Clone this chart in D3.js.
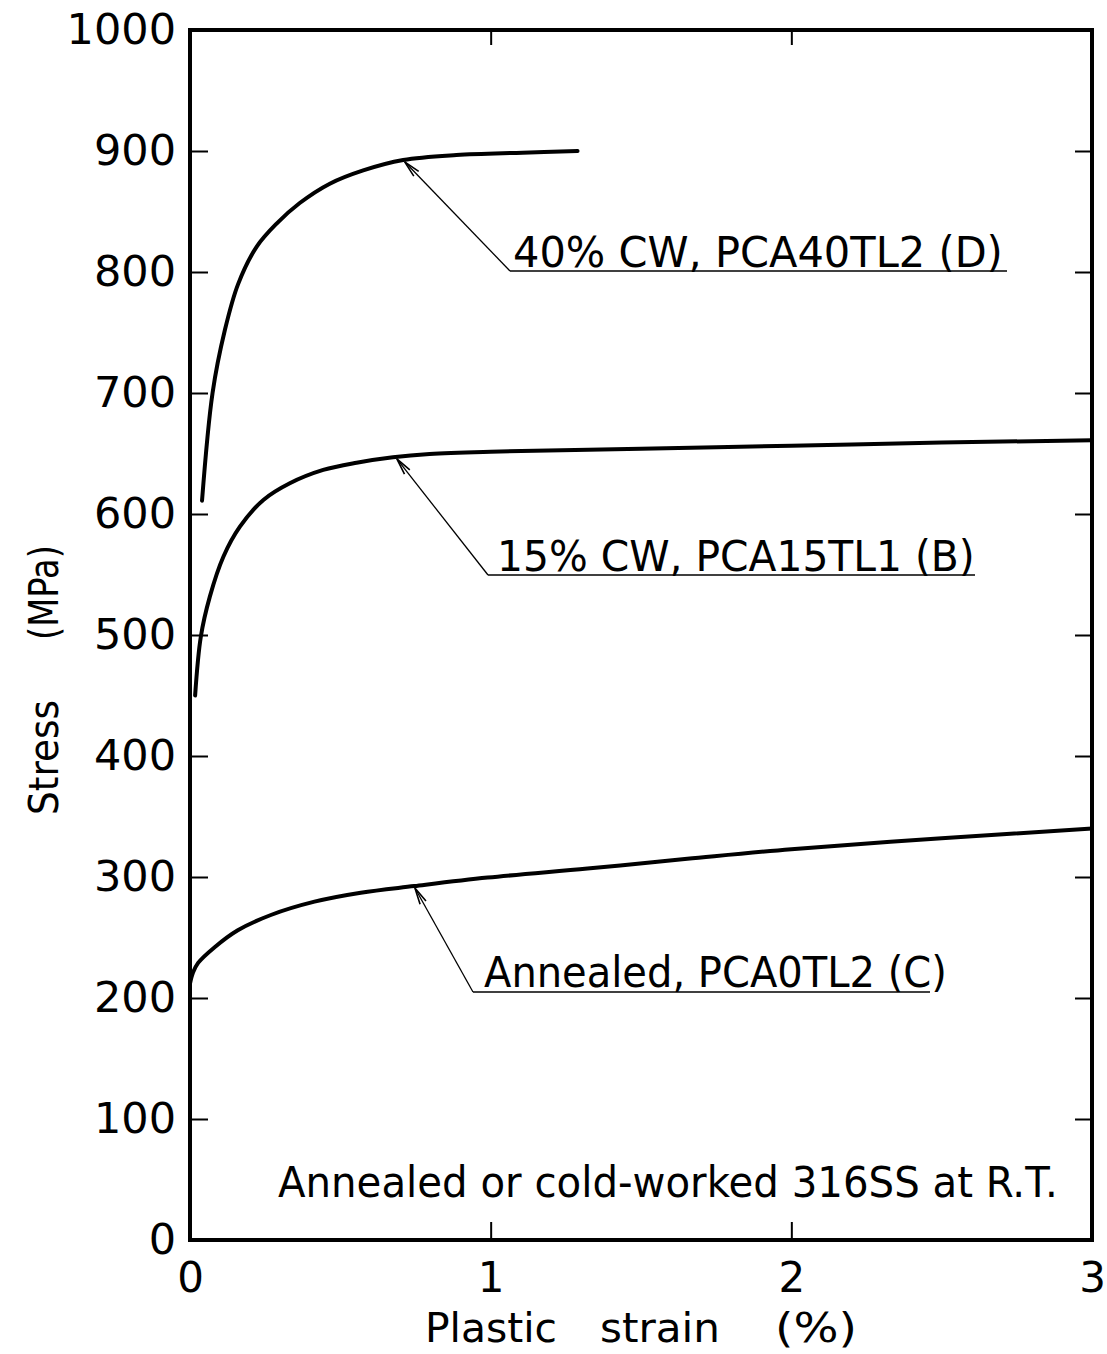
<!DOCTYPE html>
<html>
<head>
<meta charset="utf-8">
<script src="https://cdn.jsdelivr.net/npm/d3@7"></script>
<style>
  body { margin: 0; background: #fff; }
  svg { display: block; }
</style>
</head>
<body>
<svg id="chart" width="1107" height="1354"></svg>
<script>
// Tick values for the two axes
const strainTicks = [0, 1, 2, 3];
const stressTicks = [0, 100, 200, 300, 400, 500, 600, 700, 800, 900, 1000];

// 40% cold-worked, PCA40TL2 (D)
const strainD = [0.040, 0.075, 0.116, 0.160, 0.222, 0.288, 0.365, 0.465, 0.576, 0.709, 0.886, 1.106, 1.289];
const stressD = [611, 700, 752, 790, 821, 840, 857, 873, 884, 892.6, 896.7, 898.6, 900];

// 15% cold-worked, PCA15TL1 (B)
const strainB = [0.017, 0.036, 0.066, 0.111, 0.166, 0.244, 0.332, 0.443, 0.554, 0.675, 0.797, 1.0, 1.5, 2.0, 2.5, 3.0];
const stressB = [450, 498.6, 531.7, 564.7, 589.5, 611.6, 625.4, 636.4, 642.4, 646.9, 649.6, 651.5, 654, 656.5, 659, 661];

// Annealed, PCA0TL2 (C)
const strainC = [0, 0.010, 0.027, 0.082, 0.159, 0.269, 0.414, 0.568, 0.746, 0.99, 1.322, 1.654, 2.0, 2.5, 3.0];
const stressC = [212, 221, 229, 242, 256, 268.6, 279.6, 287, 292.5, 299.5, 307, 315, 323, 332, 340];

// Curve labels and the strain at which each leader arrow touches its curve
const curveLabels = ["40% CW, PCA40TL2 (D)", "15% CW, PCA15TL1 (B)", "Annealed, PCA0TL2 (C)"];
const arrowStrain = [0.714, 0.688, 0.748];

const note = "Annealed or cold-worked 316SS at R.T.";
const xTitle = ["Plastic", "strain", "(%)"];
const yTitle = ["Stress", "(MPa)"];

const FONT = "'DejaVu Sans', 'Liberation Sans', sans-serif";

const svg = d3.select("#chart");
const W = 1107, H = 1354;
svg.append("rect").attr("width", W).attr("height", H).attr("fill", "#fff");

const plot = { left: 190, right: 1092, top: 30, bottom: 1240 };

const x = d3.scaleLinear().domain([0, 3]).range([plot.left, plot.right]);
const y = d3.scaleLinear().domain([0, 1000]).range([plot.bottom, plot.top]);

// Places a text at (tx, ty), squeezed horizontally to the given width
function fittedText(parent, str, tx, ty, width, size, rotate) {
  const t = parent.append("text")
    .attr("x", 0).attr("y", 0)
    .style("font-family", FONT).style("font-size", size + "px")
    .attr("fill", "#000")
    .text(str);
  const natural = t.node().getComputedTextLength();
  const sx = width / natural;
  t.attr("transform", `translate(${tx},${ty})${rotate ? ` rotate(${rotate})` : ""} scale(${sx},1)`);
  return t;
}

// ---- axes (inward ticks) ----
function styleAxis(g, fontSize) {
  g.select(".domain").remove();
  g.selectAll(".tick line").attr("stroke", "#000").attr("stroke-width", 2);
  g.selectAll(".tick text")
    .attr("fill", "#000")
    .style("font-family", FONT)
    .style("font-size", fontSize + "px");
}

const innerStress = stressTicks.filter(v => v > 0 && v < 1000);
const innerStrain = strainTicks.filter(v => v > 0 && v < 3);

// left axis with labels
const gLeft = svg.append("g").attr("transform", `translate(${plot.left},0)`)
  .call(d3.axisLeft(y).tickValues(stressTicks).tickSize(-18).tickPadding(14).tickFormat(d3.format("d")));
styleAxis(gLeft, 43);
gLeft.selectAll(".tick").filter(d => d === 0 || d === 1000).select("line").remove();

// right axis ticks only
const gRight = svg.append("g").attr("transform", `translate(${plot.right},0)`)
  .call(d3.axisRight(y).tickValues(innerStress).tickSize(-17).tickFormat(""));
styleAxis(gRight, 43);

// bottom axis with labels
const gBottom = svg.append("g").attr("transform", `translate(0,${plot.bottom})`)
  .call(d3.axisBottom(x).tickValues(strainTicks).tickSize(-18).tickPadding(22).tickFormat(d3.format("d")));
styleAxis(gBottom, 42);
gBottom.selectAll(".tick").filter(d => d === 0 || d === 3).select("line").remove();

// top axis ticks only
const gTop = svg.append("g").attr("transform", `translate(0,${plot.top})`)
  .call(d3.axisTop(x).tickValues(innerStrain).tickSize(-15).tickFormat(""));
styleAxis(gTop, 42);

// ---- frame ----
svg.append("rect")
  .attr("x", plot.left).attr("y", plot.top)
  .attr("width", plot.right - plot.left).attr("height", plot.bottom - plot.top)
  .attr("fill", "none").attr("stroke", "#000").attr("stroke-width", 4);

// ---- curves ----
const series = [
  { strain: strainD, stress: stressD },
  { strain: strainB, stress: stressB },
  { strain: strainC, stress: stressC }
];

const line = d3.line()
  .x(d => x(d[0]))
  .y(d => y(d[1]))
  .curve(d3.curveCatmullRom.alpha(0.5));

svg.append("g").selectAll("path")
  .data(series)
  .join("path")
  .attr("d", s => line(d3.zip(s.strain, s.stress)))
  .attr("fill", "none")
  .attr("stroke", "#000")
  .attr("stroke-width", 4)
  .attr("stroke-linecap", "round")
  .attr("stroke-linejoin", "round");

// ---- leader labels ----
// underline start/end, text start, text baseline, text width (px)
const labelLayout = [
  { ux0: 510, ux1: 1007, uy: 271, tx: 513, ty: 267, len: 490 },
  { ux0: 488, ux1: 975, uy: 575, tx: 497, ty: 571, len: 478 },
  { ux0: 473, ux1: 930, uy: 992, tx: 484, ty: 987, len: 463 }
];

const gLab = svg.append("g");
curveLabels.forEach((txt, i) => {
  const s = series[i];
  const stressAt = d3.scaleLinear().domain(s.strain).range(s.stress);
  const e = arrowStrain[i];
  const tip = [x(e), y(stressAt(e)) + 2];
  const L = labelLayout[i];

  // underline
  gLab.append("line")
    .attr("x1", L.ux0).attr("y1", L.uy).attr("x2", L.ux1).attr("y2", L.uy)
    .attr("stroke", "#000").attr("stroke-width", 1.5);
  // leader
  gLab.append("line")
    .attr("x1", L.ux0).attr("y1", L.uy).attr("x2", tip[0]).attr("y2", tip[1])
    .attr("stroke", "#000").attr("stroke-width", 1.3);
  // arrow head
  const ang = Math.atan2(L.uy - tip[1], L.ux0 - tip[0]);
  const hl = 17, spread = 0.2;
  const p = [
    [tip[0] + hl * Math.cos(ang + spread), tip[1] + hl * Math.sin(ang + spread)],
    tip,
    [tip[0] + hl * Math.cos(ang - spread), tip[1] + hl * Math.sin(ang - spread)]
  ];
  gLab.append("path")
    .attr("d", d3.line()(p))
    .attr("fill", "none").attr("stroke", "#000").attr("stroke-width", 1.6);
  // text
  fittedText(gLab, txt, L.tx, L.ty, L.len, 43);
});

// ---- note inside the plot ----
fittedText(svg, note, 278, 1197, 780, 43);

// ---- axis titles ----
const xTitleLayout = [{ x: 425, len: 132 }, { x: 600, len: 120 }, { x: 775, len: 82 }];
xTitle.forEach((t, i) => fittedText(svg, t, xTitleLayout[i].x, 1342, xTitleLayout[i].len, 41));

const yTitleLayout = [{ y: 815, len: 115 }, { y: 640, len: 95 }];
yTitle.forEach((t, i) => fittedText(svg, t, 58, yTitleLayout[i].y, yTitleLayout[i].len, 40, -90));
</script>
</body>
</html>
